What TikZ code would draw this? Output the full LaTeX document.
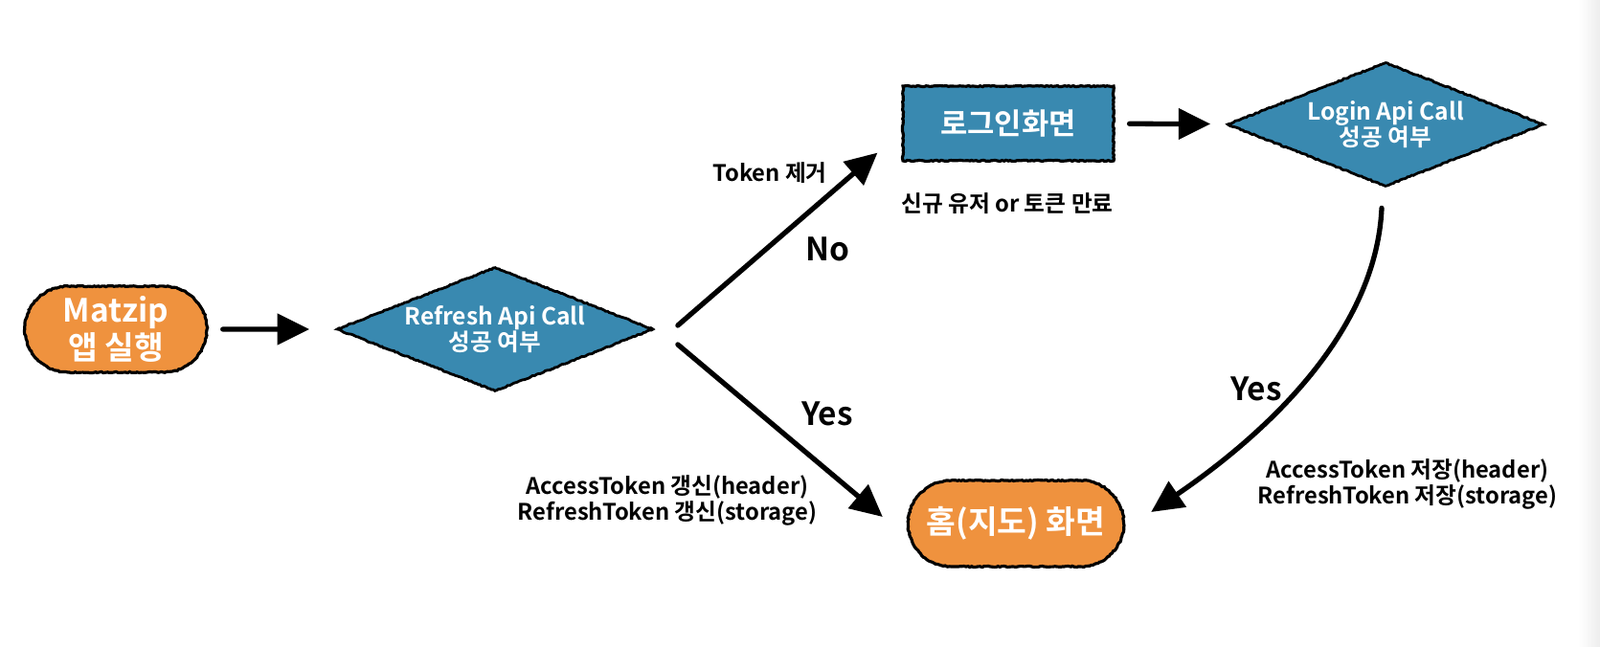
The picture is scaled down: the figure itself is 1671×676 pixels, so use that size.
\documentclass[tikz,border=0pt]{standalone}
\usepackage{fontspec}
\newfontfamily\krfont{Noto Sans CJK KR}[BoldFont={Noto Sans CJK KR Bold}]
\usetikzlibrary{arrows.meta, shapes.geometric, shapes.misc, decorations.pathmorphing}
\definecolor{appOrange}{RGB}{239,146,62}
\definecolor{appBlue}{RGB}{57,137,176}

\tikzset{
  rough/.style={decorate, decoration={random steps, segment length=1.2pt, amplitude=0.35pt}},
  startend/.style={rounded rectangle, draw=black, line width=1.8pt, fill=appOrange, rough,
    text=white, align=center, minimum height=1.8cm, font=\krfont\bfseries\fontsize{19}{22}\selectfont},
  decision/.style={diamond, draw=black, line width=1.6pt, fill=appBlue, rough, aspect=2.55,
    inner sep=0pt, minimum width=6.62cm, minimum height=2.6cm, text=white, align=center,
    font=\krfont\bfseries\fontsize{14}{15.5}\selectfont},
  screen/.style={rectangle, draw=black, line width=1.8pt, fill=appBlue, rough, text=white,
    minimum width=4.4cm, minimum height=1.56cm, font=\krfont\bfseries\fontsize{17.5}{20}\selectfont},
  flow/.style={line width=3pt, line cap=round, -{Triangle[length=19pt,width=18pt]}},
  lbl/.style={align=center, font=\krfont\bfseries\fontsize{13.5}{15.5}\selectfont},
  yesno/.style={font=\krfont\bfseries\fontsize{19}{22}\selectfont}
}

\begin{document}
\begin{tikzpicture}[x=0.02cm, y=-0.02cm]
\useasboundingbox (0,0) rectangle (1671,676);
\fill[left color=white, right color=black!7] (1648,0) rectangle (1671,676); %page shadow

\node[startend, minimum width=4.04cm] (matzip) at (121,344) {Matzip\\앱 실행};
\node[decision] (refresh) at (517,344) {Refresh Api Call\\성공 여부};
\node[screen] (loginbox) at (1053,129) {로그인화면};
\node[decision] (loginapi) at (1447,130) {Login Api Call\\성공 여부};
\node[startend, minimum width=4.74cm] (home) at (1061,547) {홈(지도) 화면};

\draw[flow, shorten <=0.3cm, shorten >=0.54cm] (matzip) -- (refresh);
\draw[flow] ([shift={(24,-4)}]refresh.east) -- ([shift={(-25,-10)}]loginbox.south west); %No
\draw[flow] ([shift={(24,16)}]refresh.east) -- ([shift={(-25,-7)}]home.west); %Yes
\draw[flow, shorten <=0.3cm, shorten >=0.34cm] (loginbox) -- (loginapi);
\draw[flow] ([shift={(-4,21)}]loginapi.south) .. controls +(-6,135) and +(110,-75) .. ([shift={(27,-12)}]home.east); %Yes

\node[lbl] (tokendel) at (804,181) {Token 제거};
\node[yesno] (nolbl) at (864,260) {No};
\node[lbl] (newuser) at (1052,213) {신규 유저 or 토큰 만료};
\node[yesno] (yesrefresh) at (864,432) {Yes};
\node[lbl] (renew) at (697,523) {AccessToken 갱신(header)\\RefreshToken 갱신(storage)};
\node[yesno] (yeslogin) at (1312,406) {Yes};
\node[lbl] (save) at (1470,506) {AccessToken 저장(header)\\RefreshToken 저장(storage)};

\end{tikzpicture}
\end{document}
